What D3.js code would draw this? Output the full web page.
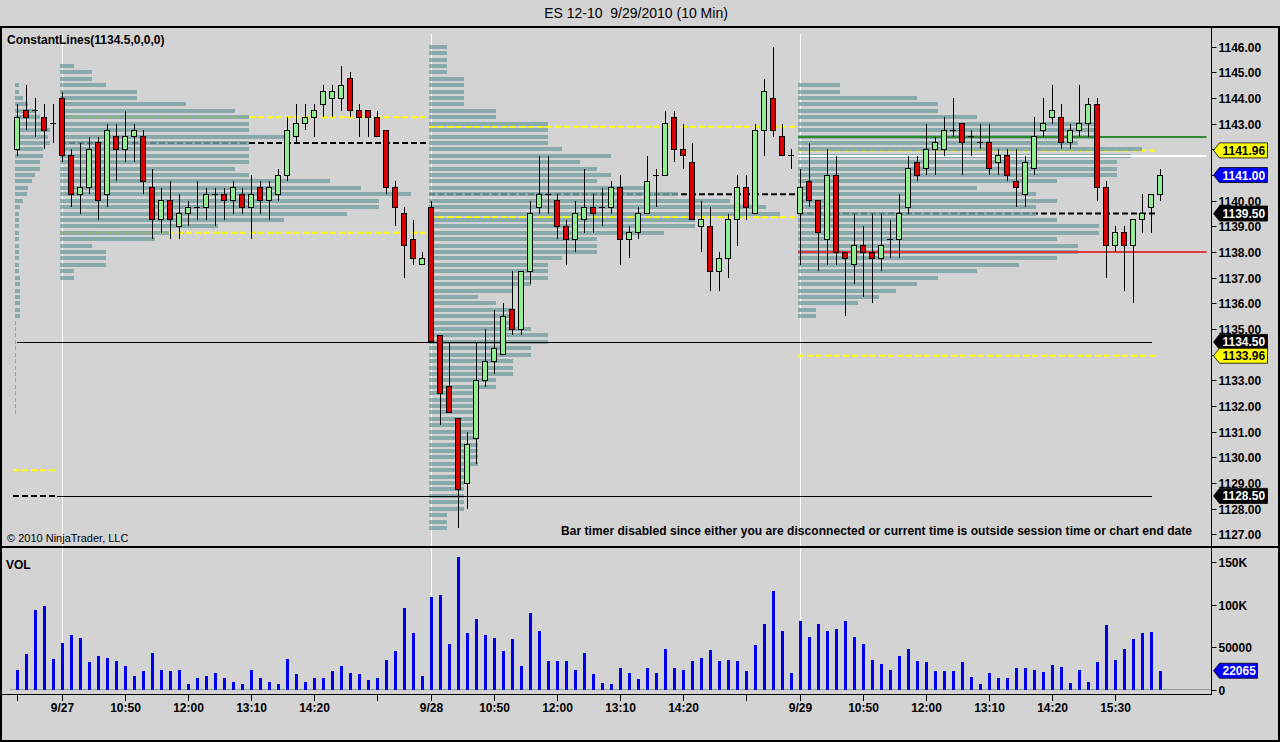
<!DOCTYPE html>
<html><head><meta charset="utf-8">
<script src="https://cdn.jsdelivr.net/npm/d3@7/dist/d3.min.js"></script>
<style>
body{margin:0;background:#d3d3d3;}
svg{display:block;font-family:"Liberation Sans",Arial,sans-serif;}
</style></head>
<body><svg id="c" width="1280" height="742"></svg>
<script>
// ---------- DATA ----------
const title = "ES 12-10\u00a0\u00a09/29/2010 (10 Min)";
const opens = [1142,1143.5,1143.5,1143.25,1143,1144,1141.75,1140.25,1140.5,1142.25,1140.25,1142.5,1142,1142.5,1142.5,1140.5,1139.25,1140,1139,1139.5,1139.75,1139.75,1140.25,1140.25,1140,1140.25,1139.75,1140.5,1140,1140.25,1141,1142.5,1143,1143.25,1143.75,1144,1144,1144.75,1143.5,1143.5,1143.25,1142.75,1140.5,1139.5,1138.5,1137.5,
1139.75,1134.75,1132.75,1131.5,1129,1130.75,1133,1133.75,1134,1135.75,1135,1137.25,1139.75,1140.25,1140,1139,1138.5,1139.25,1139.75,1139.75,1139.75,1140.5,1138.5,1138.75,1139.5,1141,1141,1143.25,1142,1141.5,1139,1139,1137.25,1137.75,1139.25,1140.5,1139.5,1142.75,1144,1142.5,1141.75,
1139.5,1140.75,1140,1138.5,1141,1138,1137.5,1138.25,1138,1137.75,1138.5,1138.5,1139.75,1141.5,1141.25,1142,1142,1142.75,1143,1142.5,1142.25,1142.25,1141.5,1141.75,1140.75,1140.25,1141.25,1142.75,1143.25,1143.25,1142.25,1142.75,1143,1143.75,1140.5,1138.25,1138.75,1138.25,1139.25,1139.75,1140.25];
const highs = [1143.75,1144.5,1144,1143.75,1143.75,1144.25,1142,1142.25,1142.5,1142.5,1143,1143,1143.5,1143,1142.75,1141.25,1140.5,1140.75,1140.25,1140,1140.75,1140.5,1140.5,1140.5,1140.75,1140.5,1141,1140.75,1140.75,1141.25,1143.25,1143.75,1143.75,1143.75,1144.5,1144.5,1145.25,1145,1143.75,1143.5,1143.5,1142.75,1140.75,1139.75,1139.25,1138,
1140,1134.75,1134.5,1131.5,1131,1134.5,1135,1135.75,1136,1137.25,1137.25,1140,1141.75,1141.75,1140.25,1139.25,1140,1141.25,1140.25,1140.5,1140.75,1141,1139,1139.75,1141.75,1141.25,1143.5,1143.5,1143,1142.25,1140,1139.75,1138,1139.5,1141,1141,1143,1144.75,1146,1143,1142,
1141.25,1142.25,1140,1142,1141.75,1138,1139.5,1139,1139.5,1139.5,1139.25,1140.25,1141.75,1141.75,1143,1142.5,1143.25,1144,1143,1142.75,1143,1143,1142,1142,1142,1141.75,1143.25,1144,1144.5,1143.75,1143,1144.5,1144,1144,1140.75,1139,1139,1139.25,1140.25,1140.25,1141.25];
const lows = [1141.75,1142.75,1142.5,1142,1142.25,1141.5,1139.75,1139.5,1140.25,1139.25,1139.75,1140.75,1141.5,1141.5,1140.25,1138.5,1138.75,1138.5,1138.5,1139,1139.25,1139.25,1139,1139.25,1139.5,1139.5,1138.5,1139.5,1139.25,1140,1140.75,1142.25,1142.75,1142.5,1143.25,1143.25,1143.5,1143.25,1142.5,1142.5,1142.5,1140.25,1139,1137,1137.5,1137.5,
1134.5,1131.25,1131.75,1127.25,1128,1129.75,1132.75,1133.25,1134,1134.75,1134.75,1136.75,1139.5,1139.5,1138.5,1137.5,1138,1138.75,1138.75,1139,1139.5,1137.5,1137.75,1138.5,1139.5,1139.75,1141,1141.5,1141.25,1139.25,1138,1136.5,1136.5,1137,1138.25,1139.25,1139.5,1141.75,1142.5,1141.75,1141.25,
1137.5,1139.75,1137.25,1137.5,1137.5,1135.5,1136.75,1136.25,1136,1137.25,1137.75,1137.75,1139.5,1140.75,1141,1141,1141.75,1142.5,1141,1141.75,1142,1141,1141,1140.75,1139.75,1139.75,1141,1142.5,1143,1142,1142,1142.5,1142.5,1140,1137,1138,1136.5,1136,1138.75,1138.75,1140];
const closes = [1143.25,1143.25,1143.5,1142.75,1143,1141.75,1140.25,1140.5,1142,1140,1142.75,1142,1142.5,1142.75,1140.75,1139.25,1140,1139.25,1139.5,1139.75,1139.75,1140.25,1140.25,1140,1140.5,1139.75,1140.25,1140,1140.5,1141,1142.75,1143,1143.25,1143.5,1144.25,1144.25,1144.5,1143.5,1143.25,1143.25,1142.5,1140.5,1139.75,1138.25,1137.75,1137.75,
1134.5,1132.5,1131.75,1128.75,1130.5,1133,1133.75,1134.25,1135.5,1135,1137.25,1139.5,1140.25,1140.25,1139,1138.5,1139.5,1139.75,1139.5,1139.75,1140.5,1138.5,1138.75,1139.5,1140.75,1141,1143,1142,1141.75,1139.25,1139.25,1137.25,1137.75,1139.25,1140.5,1139.75,1142.75,1144.25,1142.75,1141.75,1141.75,
1140.5,1140,1138.75,1141,1138,1137.75,1138.25,1138,1137.75,1138.25,1138.5,1139.5,1141.25,1141,1142,1142.25,1142.75,1142.75,1142.25,1142.5,1142.25,1141.25,1141.75,1141,1140.5,1141.5,1142.5,1143,1143.5,1142.25,1142.75,1143,1143.75,1140.5,1138.25,1138.75,1138.25,1139.25,1139.5,1140.25,1141];
const volumes = [23000,42000,94000,98000,36000,55000,64000,61000,32000,40000,37000,33000,28000,16000,22000,43000,23000,22000,23000,7000,13000,16000,19000,14000,9000,7000,23000,13000,9000,7000,36000,18000,9000,13000,13000,22000,28000,20000,18000,11000,13000,35000,45000,96000,66000,16000,
109000,111000,53000,156000,67000,83000,64000,61000,45000,60000,28000,90000,69000,33000,34000,34000,23000,43000,18000,8000,6000,25000,19000,12000,25000,20000,48000,25000,23000,33000,37000,46000,34000,35000,34000,22000,52000,77000,116000,69000,20000,
81000,62000,77000,69000,71000,81000,62000,53000,35000,30000,23000,39000,48000,33000,32000,22000,22000,22000,32000,15000,6000,19000,14000,13000,25000,25000,23000,21000,29000,26000,8000,23000,9000,32000,76000,35000,48000,59000,66000,68000,22065];

// sessions: first bar index and bar count
const sessionNames = ["9/24","9/27","9/28","9/29"];
const sessionFirst = [0,5,46,87];
const sessionBars = [5,41,41,41];
// volume profile per session (relative volume, % of reference), listed from the top price down in 0.25 steps
const profileTop = [1144.5,1145.25,1146,1144.5];
const profile0924 = [9,9,19,30,47,58,75,82,77,82,65,65,58,58,47,40,30,28,19,12,9,
  10,10,10,10,10,10,10,10,10,12,12,12,12,12,12,12,
  3,3,3,3,3,3,3,3,3,3,3,3,3,3,3];
const profile0927 = [4,9,9,13,22,22,36,50,54,54,54,64,54,54,54,54,50,54,77,86,100,91,91,82,64,45,31,27,9,13,13,13,4,4];
const profile0928 = [5,5,5,5,5,10,10,10,10,10,19,19,34,34,34,34,38,52,43,48,52,48,62,71,86,96,100,76,76,67,48,48,48,38,34,34,34,29,24,14,19,24,24,24,29,34,34,29,29,24,24,24,19,19,
  14,14,14,14,14,14,14,14,14,14,14,14,10,10,10,10,10,10,10,5,5,5];
const profile0929 = [12,12,34,40,40,51,86,86,86,80,98,95,91,91,91,74,51,68,74,68,68,74,86,86,74,80,80,74,63,51,40,34,28,23,17,5,5];
const profiles = [profile0924,profile0927,profile0928,profile0929];

// levels: [price, fromBar, toBar, kind]
const levelPrices = [1129.5,1128.5,1143.25,1142.25,1138.75,1142.88,1140.25,1139.36,1141.96,1139.5,1133.96];
const levelFrom   = [0,0,5,5,5,46,46,46,87,87,87];
const levelTo     = [4,4,45,45,45,86,86,86,126,126,126];
const levelKinds  = ["va","poc","va","poc","va","va","poc","va","va","poc","va"];
// solid lines over everything
const linePrices = [1134.5,1128.5,1142.5,1141.75,1138.0];
const lineFrom   = [0,4,87,87,87];
const lineColors = ["#000","#000","#2e8b2e","#ffffff","#e03838"];
const lineWidths = [1,1,2,2,2];
const lineToAxis = [false,false,true,true,true];

// price markers on the axis
const markerPrices = [1141.96,1141.00,1139.50,1134.50,1133.96,1128.50];
const markerFills = ["#ffff00","#0000ff","#000000","#000000","#ffff00","#000000"];
const markerText = ["#000","#fff","#fff","#fff","#000","#fff"];

const priceTicks = d3.range(1127,1147,1);
const volTicks = [0,50000,100000,150000];
const volTickLabels = ["0","50000","100K","150K"];
const xTickBars = [0,5,12,19,26,33,40,46,53,60,67,74,81,87,94,101,108,115,122];
const xTickLabels = ["","9/27","10:50","12:00","13:10","14:20","","9/28","10:50","12:00","13:10","14:20","","9/29","10:50","12:00","13:10","14:20","15:30"];

// ---------- SCALES ----------
const svg = d3.select("#c");
const n = closes.length;
const x = d3.scaleLinear().domain([0, 127]).range([17, 1160]);
const y = d3.scaleLinear().domain([1127, 1146]).range([534.4, 46.7]);
const yv = d3.scaleLinear().domain([0, 150000]).range([689.5, 562]);
const AX = 1211.5;

svg.append("rect").attr("width",1280).attr("height",742).attr("fill","#d3d3d3");

// title
svg.append("text").attr("x",636).attr("y",18).attr("text-anchor","middle")
  .attr("font-size",14).attr("fill","#000").text(title);

const clip = svg.append("defs").append("clipPath").attr("id","pc");
clip.append("rect").attr("x",2).attr("y",28).attr("width",AX-2).attr("height",518);
const P = svg.append("g").attr("clip-path","url(#pc)");

// session separators
sessionFirst.slice(1).forEach(b=>{
  const xx = Math.round(x(b))+0.5;
  P.append("line").attr("x1",xx).attr("x2",xx).attr("y1",34).attr("y2",546).attr("stroke","#fff").attr("stroke-width",1);
  svg.append("line").attr("x1",xx).attr("x2",xx).attr("y1",548).attr("y2",689).attr("stroke","#fff").attr("stroke-width",1);
});

// value-area / POC levels (under the profiles)
levelPrices.forEach((p,k)=>{
  const x1 = levelFrom[k] === 0 ? x(0)-4 : x(levelFrom[k])-2;
  const x2 = x(levelTo[k]) + 4;
  P.append("line").attr("x1",x1).attr("x2",x2).attr("y1",y(p)).attr("y2",y(p))
    .attr("stroke", levelKinds[k]==="va" ? "#ffff00" : "#000")
    .attr("stroke-width",2).attr("stroke-dasharray","6,3");
});

// volume profiles
const tick = 0.25;
profiles.forEach((prof,s)=>{
  const x0 = x(sessionFirst[s]) - 2;
  const w = d3.scaleLinear().domain([0,100]).range([0, sessionBars[s]*9*0.95]);
  P.append("g").attr("shape-rendering","crispEdges").selectAll("rect").data(prof).join("rect")
    .attr("x", x0).attr("width", d=>Math.max(1,w(d)))
    .attr("y", (d,i)=> y(profileTop[s] - i*tick) - 2).attr("height",4)
    .attr("fill","rgb(119,160,160)").attr("fill-opacity",0.8);
});

// solid lines
linePrices.forEach((p,k)=>{
  const x1 = lineFrom[k]===0 ? x(0) : (lineFrom[k]===4 ? x(4)+4 : x(lineFrom[k])-2);
  const x2 = lineToAxis[k] ? AX-5 : 1152;
  const yy = lineWidths[k]===1 ? Math.round(y(p))+0.5 : Math.round(y(p));
  P.append("line").attr("x1",x1).attr("x2",x2).attr("y1",yy).attr("y2",yy)
    .attr("stroke",lineColors[k]).attr("stroke-width",lineWidths[k]);
});

// candles
const cg = P.append("g").attr("shape-rendering","crispEdges");
const idx = d3.range(n);
cg.selectAll("line.w").data(idx).join("line").attr("class","w")
  .attr("x1",i=>Math.round(x(i))).attr("x2",i=>Math.round(x(i)))
  .attr("y1",i=>y(highs[i])).attr("y2",i=>y(lows[i])).attr("stroke","#000");
cg.selectAll("rect.b").data(idx).join("rect").attr("class","b")
  .attr("x",i=>Math.round(x(i))-2.5).attr("width",5)
  .attr("y",i=>y(Math.max(opens[i],closes[i])))
  .attr("height",i=>Math.max(0.01, y(Math.min(opens[i],closes[i]))-y(Math.max(opens[i],closes[i]))))
  .attr("fill",i=> closes[i]>=opens[i] ? "#90ee90" : "#dd0000")
  .attr("stroke","#000").attr("stroke-width",1);

// panel texts
svg.append("text").attr("x",7).attr("y",44).attr("font-size",12).attr("font-weight","bold").text("ConstantLines(1134.5,0,0,0)");
svg.append("text").attr("x",7).attr("y",542).attr("font-size",11).text("\u00a9 2010 NinjaTrader, LLC");
svg.append("text").attr("x",1192).attr("y",535).attr("text-anchor","end").attr("font-size",12).attr("font-weight","bold")
  .attr("textLength",631).attr("lengthAdjust","spacing")
  .text("Bar timer disabled since either you are disconnected or current time is outside session time or chart end date");

// volume panel
svg.append("line").attr("x1",10).attr("x2",AX).attr("y1",689.5).attr("y2",689.5).attr("stroke","#9a9a9a");
svg.append("g").attr("shape-rendering","crispEdges").selectAll("rect").data(volumes).join("rect")
  .attr("x",(d,i)=>Math.round(x(i))-1).attr("width",3)
  .attr("y",d=>yv(d)).attr("height",d=>yv(0)-yv(d)).attr("fill","#0000ee");
svg.append("text").attr("x",6).attr("y",569).attr("font-size",12).attr("font-weight","bold").text("VOL");

// frame
const frame = svg.append("g").attr("stroke","#000").attr("shape-rendering","crispEdges");
frame.append("line").attr("x1",0).attr("x2",1280).attr("y1",27).attr("y2",27).attr("stroke-width",2);
frame.append("line").attr("x1",0).attr("x2",1280).attr("y1",547).attr("y2",547).attr("stroke-width",2);
frame.append("line").attr("x1",0).attr("x2",1280).attr("y1",741).attr("y2",741).attr("stroke-width",2);
frame.append("line").attr("x1",1).attr("x2",1).attr("y1",27).attr("y2",742).attr("stroke-width",2);
frame.append("line").attr("x1",1279).attr("x2",1279).attr("y1",27).attr("y2",742).attr("stroke-width",2);
frame.append("line").attr("x1",AX).attr("x2",AX).attr("y1",27).attr("y2",695);
frame.append("line").attr("x1",2).attr("x2",AX).attr("y1",694.5).attr("y2",694.5);

// price axis (labels fully covered by a marker are not drawn)
const pa = svg.append("g");
priceTicks.forEach(p=>{
  const yy = Math.round(y(p))+0.5;
  pa.append("line").attr("x1",AX).attr("x2",AX+5).attr("y1",yy).attr("y2",yy).attr("stroke","#000");
  const covered = markerPrices.some(m => Math.abs(y(m)-y(p)) < 9);
  if (!covered) pa.append("text").attr("x",AX+7).attr("y",yy+4.5).attr("font-size",12).attr("font-weight","bold").text(p.toFixed(2));
});
// volume axis
volTicks.forEach((v,k)=>{
  const yy = Math.round(yv(v))+0.5;
  pa.append("line").attr("x1",AX).attr("x2",AX+5).attr("y1",yy).attr("y2",yy).attr("stroke","#000");
  pa.append("text").attr("x",AX+7).attr("y",yy+4.5).attr("font-size",12).attr("font-weight","bold").text(volTickLabels[k]);
});

// markers
function marker(yy, txt, fill, tc, w){
  const x0 = AX+2, h = 7.5;
  svg.append("path").attr("d",`M${x0},${yy} L${x0+6},${yy-h} L${x0+6+w},${yy-h} L${x0+6+w},${yy+h} L${x0+6},${yy+h} Z`)
    .attr("fill",fill).attr("stroke","#000").attr("stroke-width",0.8);
  svg.append("text").attr("x",x0+9).attr("y",yy+4.5).attr("font-size",12).attr("font-weight","bold").attr("fill",tc).text(txt);
}
markerPrices.forEach((p,k)=> marker(y(p), p.toFixed(2), markerFills[k], markerText[k], 48));
marker(yv(volumes[n-1]), String(volumes[n-1]), "#0000ff", "#fff", 38);

// x axis
xTickBars.forEach((b,k)=>{
  const xx = Math.round(x(b))+0.5;
  svg.append("line").attr("x1",xx).attr("x2",xx).attr("y1",695).attr("y2",701).attr("stroke","#000");
  if (xTickLabels[k]) svg.append("text").attr("x",xx).attr("y",712).attr("text-anchor","middle")
    .attr("font-size",12).attr("font-weight","bold").text(xTickLabels[k]);
});
</script></body></html>
